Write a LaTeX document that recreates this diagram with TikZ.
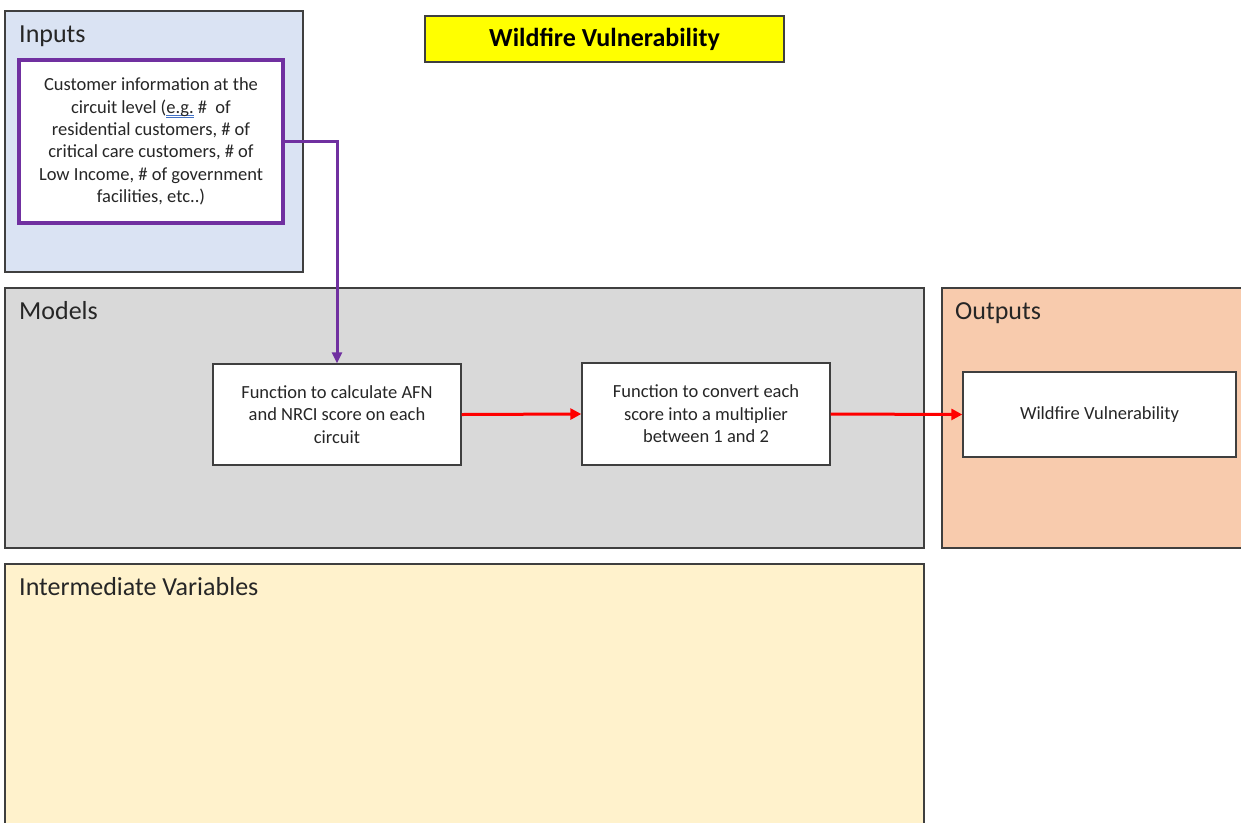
\documentclass[tikz,border=0pt]{standalone}
\usepackage{fontspec}
\setmainfont{Carlito}
\usetikzlibrary{arrows.meta}
\definecolor{inblue}{HTML}{DAE3F3}
\definecolor{modgray}{HTML}{D9D9D9}
\definecolor{outpeach}{HTML}{F8CBAD}
\definecolor{midyellow}{HTML}{FFF2CC}
\definecolor{titleyellow}{HTML}{FFFF00}
\definecolor{purp}{HTML}{7030A0}
\definecolor{edge}{HTML}{3F3F3F}
\definecolor{ulblue}{HTML}{4472C4}
\tikzset{
  panel/.style={draw=edge, line width=1.1pt, inner sep=0pt, outer sep=0pt},
  heading/.style={anchor=base west, inner sep=0pt, font=\fontsize{26}{31}\selectfont, text=black!85},
  procbox/.style={draw=edge, line width=1.4pt, fill=white, inner sep=0pt, align=center,
    font=\fontsize{18.5}{22.4}\selectfont, text=black!85},
  redarrow/.style={draw=red, line width=3pt, -{Triangle[length=11pt,width=11pt]}},
  purparrow/.style={draw=purp, line width=3pt, -{Triangle[length=11pt,width=10pt]}},
}
\newcommand{\spellmark}[1]{\setbox0\hbox{#1}%
  \rlap{\textcolor{ulblue}{\rule[-2.6pt]{\wd0}{0.7pt}}}%
  \rlap{\textcolor{ulblue}{\rule[-4.8pt]{\wd0}{0.7pt}}}\box0\relax}
\begin{document}
\begin{tikzpicture}[x=1pt,y=-1pt]
\useasboundingbox (0,0) rectangle (1241,822);
\clip (0,0) rectangle (1241,822);
% panels
\node[panel, fill=inblue, minimum width=298pt, minimum height=261pt, anchor=north west] (inputs) at (5,11) {};
\node[panel, fill=modgray, minimum width=919pt, minimum height=260pt, anchor=north west] (models) at (5,288) {};
\node[panel, fill=outpeach, minimum width=320pt, minimum height=260pt, anchor=north west] (outputs) at (942,288) {};
\node[panel, fill=midyellow, minimum width=919pt, minimum height=280pt, anchor=north west] (inter) at (5,564) {};
% headings
\node[heading] (hin) at (19,42) {Inputs};
\node[heading] (hmod) at (19,319) {Models};
\node[heading] (hout) at (955,319) {Outputs};
\node[heading] (hint) at (19,595) {Intermediate Variables};
% title
\node[draw=edge, line width=1.1pt, fill=titleyellow, minimum width=359pt, minimum height=46pt,
  font=\fontsize{26}{31}\selectfont\bfseries] (title) at (604.5,39) {Wildfire Vulnerability};
% input box
\node[procbox, draw=purp, line width=3.5pt, minimum width=264pt, minimum height=163pt] (inp) at (151,141.5)
  {Customer information at the\\ circuit level (\spellmark{e.g.} \#~ of\\ residential customers, \# of\\
   critical care customers, \# of\\ Low Income, \# of government\\ facilities, etc..)};
% model boxes
\node[procbox, minimum width=248pt, minimum height=101pt] (f1) at (337,414.5)
  {Function to calculate AFN\\ and NRCI score on each\\ circuit};
\node[procbox, minimum width=248pt, minimum height=102pt] (f2) at (706,414)
  {Function to convert each\\ score into a multiplier\\ between 1 and 2};
% output box
\node[procbox, minimum width=273pt, minimum height=85pt] (out) at (1099.5,414.5) {Wildfire Vulnerability};
% connectors
\draw[purparrow] (inp.east) -| (f1.north);
\draw[redarrow] (f1.east) -- (f2.west);
\draw[redarrow] (f2.east) -- (out.west);
\end{tikzpicture}
\end{document}
